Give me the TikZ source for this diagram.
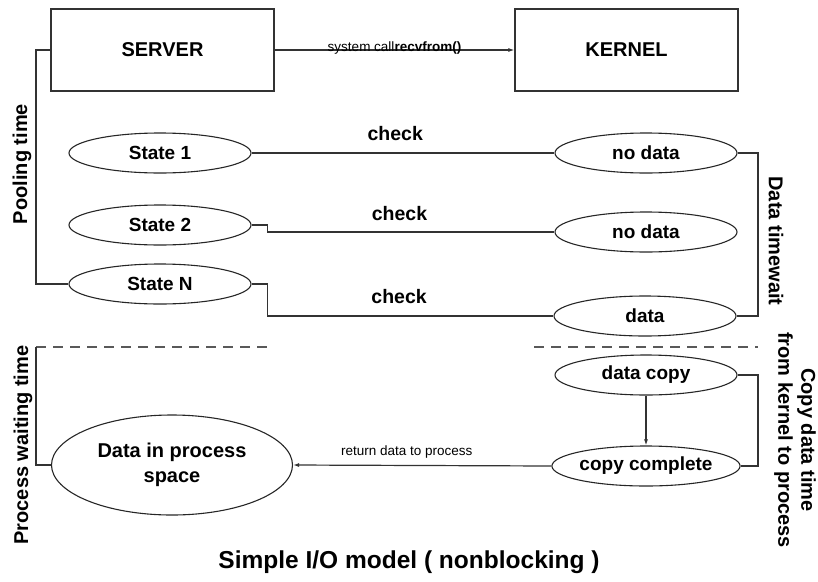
\documentclass[tikz,border=0pt]{standalone}
\usepackage{fontspec}
\setmainfont{Liberation Sans}
\usetikzlibrary{shapes.geometric,arrows.meta}
\begin{document}
\begin{tikzpicture}[x=1pt,y=-1pt,
  box/.style={draw=black!80,line width=1.2pt,minimum width=223pt,minimum height=82pt,inner sep=0pt,font=\fontsize{20}{22}\selectfont\bfseries},
  oval/.style={ellipse,draw=black!85,line width=1.1pt,minimum width=182pt,minimum height=40pt,inner sep=0pt,font=\fontsize{19}{21}\selectfont\bfseries},
  wire/.style={draw=black!80,line width=1.2pt},
  arr/.style={wire,-{Latex[length=6pt,width=4pt]}},
  dashline/.style={draw=black!65,line width=1.5pt,dash pattern=on 10pt off 7pt},
  lbl/.style={font=\fontsize{19.5}{22}\selectfont\bfseries,inner sep=0pt},
  side/.style={font=\fontsize{20}{23}\selectfont\bfseries,inner sep=0pt},
  small/.style={font=\fontsize{13.5}{15}\selectfont,inner sep=0pt}
]
\useasboundingbox (0,0) rectangle (818,581);

% top boxes
\node[box] (server) at (162.5,50) {SERVER};
\node[box] (kernel) at (626.5,50) {KERNEL};
\draw[arr] (server.east) -- (kernel.west)
  node[small,pos=0.5,anchor=base,yshift=-1pt] {system call\textbf{recvfrom()}};

% polling states
\node[oval] (s1) at (160,153) {State 1};
\node[oval] (s2) at (160,225) {State 2};
\node[oval] (sn) at (160,284) {State N};
\node[oval] (nd1) at (646,153) {no data};
\node[oval] (nd2) at (646,232) {no data};
\node[oval] (dt) at (645,316) {data};

\draw[wire] (s1.east) -- ++(16,0) -- (nd1.west)
  node[lbl,pos=0.445,anchor=south,yshift=12pt] {check};
\draw[wire] (s2.east) -- ++(16,0) |- (nd2.west)
  node[lbl,pos=0.73,anchor=south,yshift=11pt] {check};
\draw[wire] (sn.east) -- ++(16,0) |- (dt.west)
  node[lbl,pos=0.73,anchor=south,yshift=12pt] {check};

% polling time bracket
\coordinate (pl) at (36,0);
\draw[wire] (server.west) -| (pl |- sn.west) -- (sn.west);
\node[side,rotate=90] (ptime) at (22,164) {Pooling time};

% data wait bracket
\coordinate (dr) at (758,0);
\draw[wire] (nd1.east) -| (dr |- dt.east) -- (dt.east);
\node[side,rotate=-90] (dwait) at (776,241) {Data timewait};

% phase separators
\coordinate (dl1) at (36,347);
\coordinate (dl2) at (274,347);
\coordinate (dr1) at (534,347);
\coordinate (dr2) at (758,347);
\draw[dashline] (dl1) -- (dl2);
\draw[dashline] (dr1) -- (dr2);

% copy phase
\node[oval] (dc) at (646,375) {data copy};
\node[oval] (cc) at (646,466) {copy complete};
\node[ellipse,draw=black!85,line width=1.1pt,minimum width=241pt,minimum height=100pt,inner sep=0pt,
  align=center,font=\fontsize{20}{25}\selectfont\bfseries] (dp) at (172,465) {Data in process\\space};

\draw[arr] (dc.south) -- (cc.north);
\draw[arr] (cc.west) -- (dp.east)
  node[small,pos=0.56,anchor=south,yshift=7pt] {return data to process};
\draw[wire] (dc.east) -| (dr |- cc.east) -- (cc.east);
\draw[wire] (dl1) -- (dl1 |- dp.west) -- (dp.west);

\node[side,rotate=90] (pwait) at (23,445) {Process waiting time};
\node[side,rotate=-90,align=center] (cwait) at (795,440) {Copy data time\\from kernel to process};

% title
\node[font=\fontsize{24.5}{28}\selectfont\bfseries,inner sep=0pt] (title) at (409,562) {Simple I/O model ( nonblocking )};
\end{tikzpicture}
\end{document}
